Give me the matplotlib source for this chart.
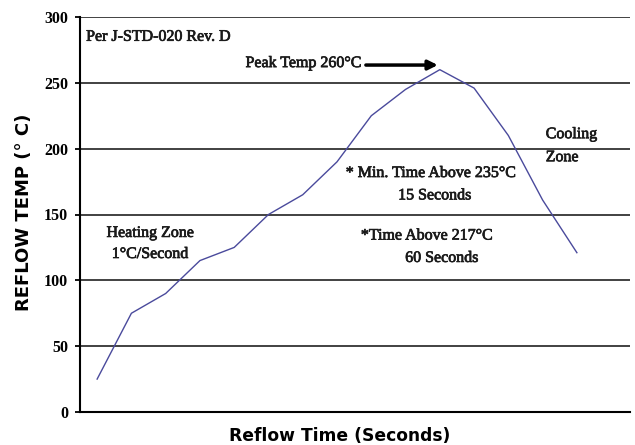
import matplotlib
matplotlib.use("Agg")
import matplotlib.pyplot as plt
import matplotlib.patheffects as pe

# Data
time_step = list(range(15))
temps = [25, 75, 90, 115, 125, 150, 165, 190, 225, 245, 260, 246, 210, 161, 121]
y_ticks = [0, 50, 100, 150, 200, 250, 300]
grid_levels = [50, 100, 150, 200, 250, 300]

serif = ["Liberation Serif", "DejaVu Serif"]
sans = ["DejaVu Sans"]

fig = plt.figure(figsize=(6.35, 4.45), dpi=100)
ax = fig.add_axes([80/635, 33/445, 550/635, 395/445])

ax.plot(time_step, temps, color="#4a4a9c", lw=1.0)

for g in grid_levels:
    ax.axhline(g, color="#333333", lw=1.3, zorder=0)

ax.set_xlim(-0.5, 15.55)
ax.set_ylim(0, 300)
ax.set_yticks(y_ticks)
ax.set_yticklabels([str(t) for t in y_ticks], fontfamily=serif, fontweight="bold", fontsize=11.5)
ax.set_xticks([])
ax.tick_params(axis="y", length=3.6, width=1.3, pad=5, colors="black")
for s in ["top", "right"]:
    ax.spines[s].set_visible(False)
for s in ["left", "bottom"]:
    ax.spines[s].set_linewidth(1.5)
    ax.spines[s].set_color("black")

def px2x(px):
    return (px - 97) / 34.3

heavy = [pe.withStroke(linewidth=0.5, foreground="#1a1a1a")]
tkw = dict(fontfamily=serif, fontweight="normal", fontsize=11.5, color="#1a1a1a", path_effects=heavy)
ax.text(px2x(86), 285, "Per J-STD-020 Rev. D", ha="left", va="center", **tkw)
ax.text(px2x(361), 265, "Peak Temp 260°C", ha="right", va="center", **tkw)
ax.annotate("", xy=(px2x(438), 263.5), xytext=(px2x(366), 263.5),
            arrowprops=dict(arrowstyle="-|>", lw=2.5, color="black", mutation_scale=14, shrinkA=0, shrinkB=0))
ax.text(px2x(546), 211, "Cooling", ha="left", va="center", **tkw)
ax.text(px2x(546), 193.5, "Zone", ha="left", va="center", **tkw)
ax.text(px2x(431), 181.5, "* Min. Time Above 235°C", ha="center", va="center", **tkw)
ax.text(px2x(435), 164.5, "15 Seconds", ha="center", va="center", **tkw)
ax.text(px2x(427), 134, "*Time Above 217°C", ha="center", va="center", **tkw)
ax.text(px2x(442), 117, "60 Seconds", ha="center", va="center", **tkw)
ax.text(px2x(150), 136, "Heating Zone", ha="center", va="center", **tkw)
ax.text(px2x(150), 120, "1°C/Second", ha="center", va="center", **tkw)

fig.text(340/635, 1 - 436/445, "Reflow Time (Seconds)", ha="center", va="center",
         fontfamily=sans, fontweight="bold", fontsize=12.3)
fig.text(24.5/635, 1 - 212/445, "REFLOW TEMP (° C)", ha="center", va="center", rotation=90,
         fontfamily=sans, fontweight="bold", fontsize=13)

fig.savefig("out.png", dpi=100)
